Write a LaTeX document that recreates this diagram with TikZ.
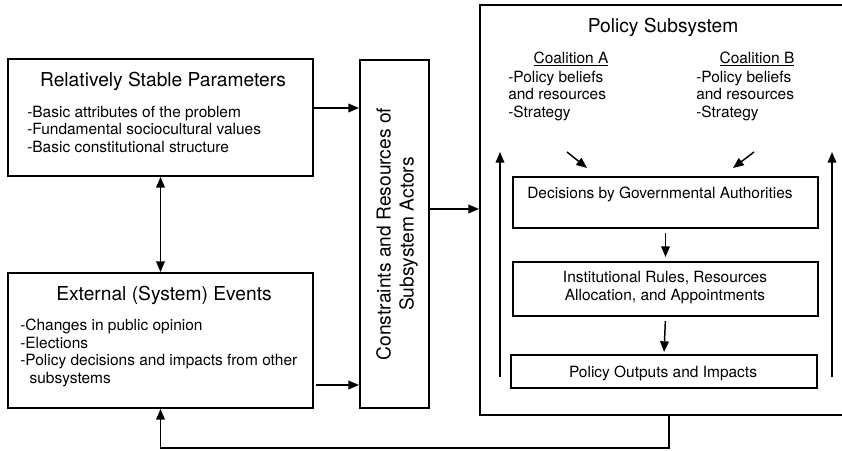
\documentclass[tikz,border=0pt]{standalone}
\usepackage{fontspec}
\setmainfont{TeX Gyre Heros}
\usetikzlibrary{arrows.meta,fit}
\newcommand\bodysize{\fontsize{11.6}{13.1}\selectfont}
\newcommand\headsize{\fontsize{14.4}{17.3}\selectfont}
\begin{document}
\begin{tikzpicture}[x=0.75pt,y=-0.75pt,
  frame/.style={draw, line width=1.5pt, inner sep=0pt},
  tip/.tip={Triangle[length=8pt,width=6.5pt]},
  arr/.style={line width=1.1pt, -tip},
  biarr/.style={line width=1.1pt, tip-tip},
  head/.style={font=\headsize, inner sep=0pt, anchor=base},
  body/.style={font=\bodysize, inner sep=0pt, align=left, anchor=north west},
  label/.style={font=\bodysize, inner sep=0pt, anchor=base},
]
\useasboundingbox (0,0) rectangle (842,450);
\clip (0,0) rectangle (842,450);

% ---- outer boxes ----
\node[frame, fit={(8,59)(313,176)}] (params) {};
\node[frame, fit={(8,273)(313,408)}] (events) {};
\node[frame, fit={(360,60)(429,408)}] (constr) {};
\node[frame, fit={(480,5)(860,415)}] (subsys) {};

% ---- texts of the left boxes ----
\node[head] (params-title) at (163,86) {Relatively Stable Parameters};
\node[body] (params-list) at (27,105.6)
  {-Basic attributes of the problem\\-Fundamental sociocultural values\\-Basic constitutional structure};
\node[head] (events-title) at (164,300) {External (System) Events};
\node[body] (events-list) at (20,318.9)
  {-Changes in public opinion\\-Elections\\-Policy decisions and impacts from other\\\hspace*{7pt}subsystems};
\node[font=\headsize, rotate=90, align=center, inner sep=0pt] (constr-text) at (397,234)
  {Constraints and Resources of\\Subsystem Actors};

% ---- policy subsystem ----
\node[head] (subsys-title) at (663,32) {Policy Subsystem};
\node[label] (coalA) at (571,63) {\underline{Coalition A}};
\node[body] (coalA-list) at (508,70.9) {-Policy beliefs\\and resources\\-Strategy};
\node[label] (coalB) at (757,63) {\underline{Coalition B}};
\node[body] (coalB-list) at (696,70.9) {-Policy beliefs\\and resources\\-Strategy};

\node[frame, fit={(513,177)(818,228)}] (decide) {};
\node[label] (decide-text) at (660,198) {Decisions by Governmental Authorities};
\node[frame, fit={(513,262)(818,316)}] (rules) {};
\node[font=\bodysize, align=center, inner sep=0pt] (rules-text) at (665,287.6)
  {Institutional Rules, Resources\\Allocation, and Appointments};
\node[frame, fit={(511,355)(817,388)}] (outputs) {};
\node[label] (outputs-text) at (663,377) {Policy Outputs and Impacts};

% ---- connectors ----
\coordinate (y1) at (0,108);
\coordinate (y2) at (0,385);
\coordinate (y3) at (0,209);
\draw[arr] (params.east |- y1) -- (constr.west |- y1);
\draw[arr, shorten <=1.5pt] (events.east |- y2) -- (constr.west |- y2);
\draw[arr] (constr.east |- y3) -- (subsys.west |- y3);
\draw[biarr] (params.south) -- (events.north);

\coordinate (Ltop) at (500,152);
\coordinate (Lbot) at (500,377);
\coordinate (Rtop) at (832,152);
\coordinate (Rbot) at (832,377);
\draw[arr] (Lbot) -- (Ltop);
\draw[arr] (Rbot) -- (Rtop);

\coordinate (Afrom) at (567,152);
\coordinate (Ato) at (587,168);
\coordinate (Bfrom) at (754,152);
\coordinate (Bto) at (733,168);
\draw[arr] (Afrom) -- (Ato);
\draw[arr] (Bfrom) -- (Bto);

\draw[arr, shorten <=3pt, shorten >=3pt] (decide.south) -- (rules.north);
\draw[arr, shorten <=3pt, shorten >=1.5pt] (rules.south) -- (outputs.north);

\coordinate (fb) at (669,448);
\draw[arr] (subsys.south -| fb) -- (fb) -- (fb -| events.south) -- (events.south);
\end{tikzpicture}
\end{document}
